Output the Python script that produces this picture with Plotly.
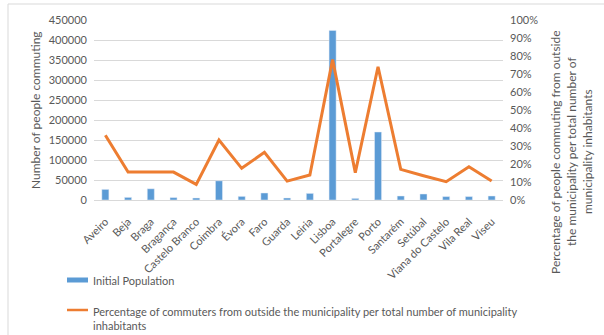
import plotly.graph_objects as go

categories = ["Aveiro", "Beja", "Braga", "Bragança", "Castelo Branco", "Coimbra", "Évora", "Faro",
              "Guarda", "Leiria", "Lisboa", "Portalegre", "Porto", "Santarém", "Setúbal",
              "Viana do Castelo", "Vila Real", "Viseu"]
initial_population = [26500, 6500, 28000, 6000, 5000, 48000, 9000, 17500, 5000, 16500,
                      424000, 4000, 170000, 10000, 15000, 8500, 8500, 10000]
pct_commuters = [0.36, 0.155, 0.155, 0.155, 0.087, 0.333, 0.176, 0.265, 0.105, 0.139,
                 0.78, 0.152, 0.74, 0.17, 0.135, 0.102, 0.185, 0.105]
left_ticks = list(range(0, 450001, 50000))
right_ticks = [i / 10 for i in range(11)]
right_title_lines = ["Percentage of people commuting from outside",
                     "the municipality per total number of",
                     "municipality inhabitants"]

W, H = 604, 335
L, R, T, B = 94, 101, 20, 135
PW, PH = W - L - R, H - T - B

def px(x):
    return (x - L) / PW

def py(y):
    return (H - B - y) / PH

FONT = "Lato"
GRAY = "#595959"
BLUE = "#5B9BD5"
ORANGE = "#ED7D31"

fig = go.Figure()
fig.add_trace(go.Bar(x=categories, y=initial_population, marker_color=BLUE,
                     name="Initial Population", yaxis="y"))
fig.add_trace(go.Scatter(x=categories, y=pct_commuters, mode="lines",
                         line=dict(color=ORANGE, width=3),
                         name="Percentage of commuters", yaxis="y2"))

fig.update_layout(
    width=W, height=H,
    margin=dict(l=L, r=R, t=T, b=B),
    paper_bgcolor="white", plot_bgcolor="white",
    showlegend=False,
    bargap=0.69,
    font=dict(family=FONT, size=11, color=GRAY),
    xaxis=dict(type="category", showgrid=False, showline=True, linecolor="#D9D9D9",
               linewidth=1, tickangle=-45, ticks="", ticklabelstandoff=10,
               tickfont=dict(size=11, color=GRAY)),
    yaxis=dict(range=[0, 450000], tickvals=left_ticks, ticktext=[str(v) for v in left_ticks],
               showgrid=True, gridcolor="#D9D9D9", gridwidth=1, zeroline=False,
               showline=False, ticks="", ticklabelstandoff=6,
               tickfont=dict(size=11, color=GRAY)),
    yaxis2=dict(range=[0, 1], overlaying="y", side="right", tickvals=right_ticks,
                ticktext=[f"{int(round(v*100))}%" for v in right_ticks],
                showgrid=False, zeroline=False, showline=False, ticks="",
                ticklabelstandoff=6, tickfont=dict(size=11, color=GRAY)),
)

annotations = [
    dict(text="Number of people commuting", x=px(35), y=py(110), xref="paper", yref="paper",
         textangle=-90, showarrow=False, font=dict(size=12, color=GRAY),
         xanchor="center", yanchor="middle"),
    dict(text="Initial Population", x=px(91), y=py(280), xref="paper", yref="paper",
         showarrow=False, font=dict(size=11, color=GRAY), xanchor="left", yanchor="middle"),
    dict(text="Percentage of commuters from outside the municipality per total number of municipality<br>inhabitants",
         x=px(91), y=py(303), xref="paper", yref="paper", showarrow=False, align="left",
         font=dict(size=11, color=GRAY), xanchor="left", yanchor="top"),
]
for line_text, xpos in zip(right_title_lines, [555, 571, 587]):
    annotations.append(dict(text=line_text, x=px(xpos), y=py(152), xref="paper", yref="paper",
                            textangle=-90, showarrow=False, font=dict(size=12, color=GRAY),
                            xanchor="center", yanchor="middle"))
fig.update_layout(annotations=annotations)

shapes = [
    dict(type="rect", xref="paper", yref="paper", x0=px(67), x1=px(88), y0=py(282.5), y1=py(277.5),
         fillcolor=BLUE, line=dict(width=0)),
    dict(type="line", xref="paper", yref="paper", x0=px(67), x1=px(88), y0=py(310), y1=py(310),
         line=dict(color=ORANGE, width=2.5)),
    dict(type="line", xref="paper", yref="paper", x0=px(8), x1=px(8), y0=py(4), y1=py(335),
         line=dict(color="#D9D9D9", width=1)),
    dict(type="line", xref="paper", yref="paper", x0=px(8), x1=px(604), y0=py(4), y1=py(4),
         line=dict(color="#D9D9D9", width=1)),
]
fig.update_layout(shapes=shapes)

fig.write_html("out.html")
